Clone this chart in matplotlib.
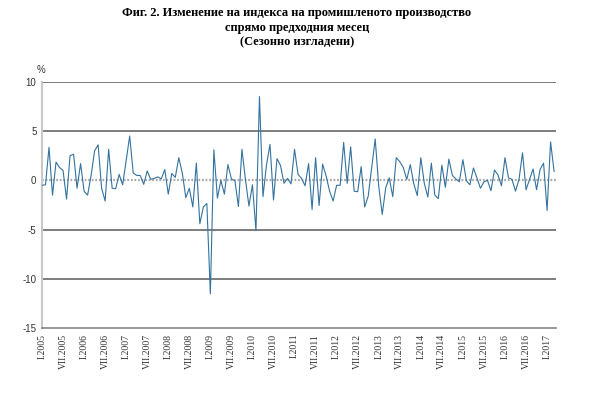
import matplotlib
matplotlib.use("Agg")
import matplotlib.pyplot as plt
import numpy as np

# monthly change, %, I.2005 .. III.2017
years = list(range(2005, 2018))
v2005 = [-0.5, -0.45, 3.35, -1.5, 1.85, 1.3, 1.0, -1.9, 2.5, 2.65, -0.8, 1.7]
v2006 = [-1.1, -1.5, 0.5, 3.0, 3.6, -0.8, -2.1, 3.15, -0.8, -0.85, 0.6, -0.45]
v2007 = [2.0, 4.5, 0.75, 0.5, 0.5, -0.4, 0.95, 0.1, 0.2, 0.35, 0.15, 1.1]
v2008 = [-1.4, 0.7, 0.3, 2.3, 0.75, -1.75, -0.8, -2.7, 1.75, -4.4, -2.7, -2.35]
v2009 = [-11.5, 3.1, -1.8, 0.0, -1.4, 1.6, 0.15, -0.05, -2.65, 3.15, 0.1, -2.6]
v2010 = [-0.45, -5.1, 8.5, -1.65, 1.55, 3.65, -2.0, 2.2, 1.5, -0.3, 0.2, -0.35]
v2011 = [3.15, 0.6, 0.2, -0.55, 1.7, -2.95, 2.3, -2.55, 1.65, 0.45, -1.1, -2.1]
v2012 = [-0.5, -0.5, 3.85, -0.3, 3.4, -1.1, -1.15, 1.4, -2.7, -1.6, 1.3, 4.2]
v2013 = [-0.6, -3.45, -0.75, 0.25, -1.65, 2.3, 1.9, 1.3, 0.1, 1.6, -0.35, -1.55]
v2014 = [2.3, -0.3, -1.7, 1.75, -1.5, -1.85, 1.55, -0.7, 2.15, 0.5, 0.15, -0.15]
v2015 = [2.1, -0.05, -0.45, 1.25, 0.25, -0.8, -0.15, 0.0, -1.05, 1.05, 0.55, -0.55]
v2016 = [2.3, 0.25, 0.1, -1.1, 0.1, 2.8, -0.95, 0.1, 1.15, -0.95, 1.1, 1.75]
v2017 = [-3.05, 3.9, 0.9]

values = (v2005 + v2006 + v2007 + v2008 + v2009 + v2010 + v2011 + v2012
          + v2013 + v2014 + v2015 + v2016 + v2017)

tick_labels = []
for y in years:
    tick_labels.append("I." + str(y))
    if y < 2017:
        tick_labels.append("VII." + str(y))

plt.rcParams['font.family'] = ['Liberation Serif', 'DejaVu Serif']

fig = plt.figure(figsize=(6, 3.95), dpi=100)
ax = fig.add_axes([0.07, 0.169, 0.857, 0.624])

x = np.arange(len(values))
ax.plot(x, values, color='#34729f', lw=0.8, zorder=3)

for g in [10, 5, -5, -10]:
    ax.axhline(g, color='#5a5a5a', lw=1.1, zorder=1)
ax.axhline(0, color='#a8a8a8', lw=1.6, ls=(0, (0.8, 0.8)), zorder=2)

ax.set_xlim(0, len(values) - 0.4)
ax.set_ylim(-15, 10)
ax.set_yticks([10, 5, 0, -5, -10, -15])
ax.set_yticklabels(['10', '5', '0', '-5', '-10', '-15'], fontsize=7,
                   family=['Liberation Sans', 'DejaVu Sans'], color='#333333')
ax.set_xticks(np.arange(0, len(values), 6))
ax.set_xticklabels(tick_labels, rotation=90, fontsize=7, va='top', ha='center',
                   color='#333333')
ax.tick_params(axis='both', length=0, pad=4)

for s in ['top', 'right']:
    ax.spines[s].set_visible(False)
ax.spines['left'].set_color('#c8c8c8')
ax.spines['left'].set_linewidth(1.5)
ax.spines['bottom'].set_color('#7a7a7a')
ax.spines['bottom'].set_linewidth(1.1)

fig.text(0.068, 0.822, '%', fontsize=7, ha='center', va='center',
         family=['Liberation Sans', 'DejaVu Sans'], color='#333333')

fig.text(0.495, 0.968, 'Фиг. 2. Изменение на индекса на промишленото производство',
         fontsize=9, fontweight='bold', ha='center', va='center')
fig.text(0.495, 0.930, 'спрямо предходния месец',
         fontsize=9, fontweight='bold', ha='center', va='center')
fig.text(0.495, 0.892, '(Сезонно изгладени)',
         fontsize=9, fontweight='bold', ha='center', va='center')

fig.savefig('out.png', dpi=100)
